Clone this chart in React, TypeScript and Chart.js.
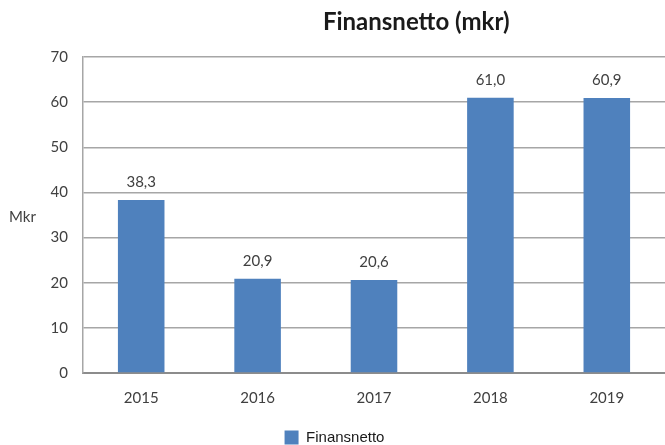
import React, { useEffect, useRef } from "react";
import { Chart, registerables } from "chart.js";

Chart.register(...registerables);

const categories = ["2015", "2016", "2017", "2018", "2019"];
const values = [38.3, 20.9, 20.6, 61.0, 60.9];
const seriesName = "Finansnetto";
const chartTitle = "Finansnetto (mkr)";
const yAxisLabel = "Mkr";
const yMax = 70;
const yStep = 10;

const fmt = (v: number) => v.toFixed(1).replace(".", ",");
const FONT = "Lato, 'Open Sans', sans-serif";

const extrasPlugin = {
  id: "extras",
  afterDraw(chart: any) {
    const { ctx, chartArea } = chart;
    ctx.save();
    // title
    ctx.font = `bold 24px ${FONT}`;
    ctx.fillStyle = "#1a1a1a";
    ctx.textAlign = "center";
    ctx.textBaseline = "alphabetic";
    ctx.fillText(chartTitle, chartArea.left + (chartArea.right - chartArea.left) * 0.5725, 30);
    // y-axis label
    ctx.font = `15px ${FONT}`;
    ctx.fillStyle = "#404040";
    ctx.textAlign = "left";
    ctx.fillText(yAxisLabel, 9, (chartArea.top + chartArea.bottom) / 2 + 7);
    // data labels
    const meta = chart.getDatasetMeta(0);
    ctx.font = `15px ${FONT}`;
    ctx.textAlign = "center";
    meta.data.forEach((bar: any, i: number) => {
      ctx.fillText(fmt(values[i]), bar.x, bar.y - 13);
    });
    ctx.restore();
  },
};

export default function App() {
  const ref = useRef<HTMLCanvasElement | null>(null);
  useEffect(() => {
    if (!ref.current) return;
    const chart = new Chart(ref.current, {
      type: "bar",
      data: {
        labels: categories,
        datasets: [
          {
            label: seriesName,
            data: values,
            backgroundColor: "#4f81bd",
            borderWidth: 0,
            barPercentage: 0.4,
            categoryPercentage: 1,
          },
        ],
      },
      options: {
        animation: false,
        responsive: false,
        maintainAspectRatio: false,
        layout: { padding: { top: 57, right: -4, left: 0, bottom: -10 } },
        plugins: {
          title: { display: false },
          tooltip: { enabled: false },
          legend: {
            position: "bottom",
            labels: {
              boxWidth: 14,
              boxHeight: 14,
              padding: 0,
              color: "#1a1a1a",
              font: { family: "'Liberation Sans', Arial, sans-serif", size: 15 },
            },
          },
        },
        scales: {
          x: {
            afterFit(scale: any) {
              scale.height = 57;
            },
            grid: { display: false, drawTicks: false },
            border: { display: true, color: "#8c8c8c", width: 2 },
            ticks: {
              color: "#404040",
              padding: 16,
              font: { family: FONT, size: 15 },
            },
          },
          y: {
            min: 0,
            max: yMax,
            afterFit(scale: any) {
              scale.width = 83;
            },
            grid: { color: "#a6a6a6", lineWidth: 1.5, drawTicks: false },
            border: { display: true, color: "#a6a6a6", width: 1.5 },
            ticks: {
              stepSize: yStep,
              color: "#404040",
              padding: 15,
              font: { family: FONT, size: 15 },
            },
          },
        },
      },
      plugins: [extrasPlugin],
    });
    return () => chart.destroy();
  }, []);
  return (
    <div style={{ position: "fixed", left: 0, top: 0, width: 665, height: 445, background: "#fff" }}>
      <canvas ref={ref} width={665} height={445} style={{ display: "block" }} />
    </div>
  );
}
